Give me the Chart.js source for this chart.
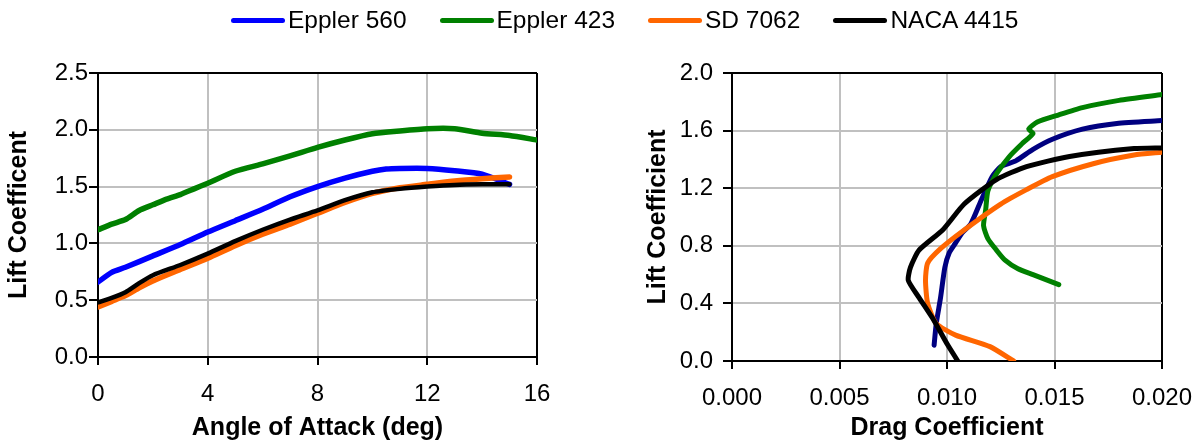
<!DOCTYPE html>
<html lang="en">
<head>
<meta charset="UTF-8">
<title>Airfoil lift and drag polars</title>
<script src="https://cdn.jsdelivr.net/npm/chart.js"></script>
<style>
  body { margin: 0; background: #fff; font-family: 'Liberation Sans', Arial, sans-serif; }
  #wrap { position: relative; width: 1199px; height: 443px; overflow: hidden; }
  #legend { position: absolute; left: 231px; top: 0; height: 40px; display: flex; align-items: center;
            font-size: 24.5px; white-space: nowrap; z-index: 2; color: #000; }
  .item { display: flex; align-items: center; margin-right: 33px; }
  .swatch { width: 54px; height: 5px; border-radius: 3px; margin-right: 3px; }
  #left { position: absolute; left: 0; top: 0; }
  #right { position: absolute; left: 590px; top: 0; }
</style>
</head>
<body>
<div id="wrap">
  <div id="legend"></div>
  <canvas id="left" width="590" height="443"></canvas>
  <canvas id="right" width="630" height="443"></canvas>
</div>

<script>
  // series names and colours (legend order)
  const names = ['Eppler 560', 'Eppler 423', 'SD 7062', 'NACA 4415'];
  const colors = ['#0000ff', '#008000', '#ff6600', '#000000'];
  const polarColors = ['#000080', '#008000', '#ff6600', '#000000'];

  // left chart: lift coefficient vs angle of attack
  const aoaE560 = [0, 0.5, 1, 2, 3, 4, 5, 6, 7, 8, 9, 10, 10.5, 11, 12, 13, 14, 15];
  const clE560  = [0.66, 0.745, 0.79, 0.89, 0.99, 1.10, 1.20, 1.30, 1.41, 1.50, 1.575, 1.635, 1.655, 1.66, 1.66, 1.64, 1.61, 1.52];

  const aoaE423 = [0, 0.5, 1, 1.5, 2, 2.5, 3, 3.5, 4, 5, 6, 7, 8, 9, 10, 11, 12, 13, 14, 15, 16];
  const clE423  = [1.12, 1.17, 1.21, 1.29, 1.34, 1.39, 1.43, 1.48, 1.53, 1.635, 1.70, 1.77, 1.845, 1.91, 1.965, 1.99, 2.01, 2.01, 1.97, 1.95, 1.91];

  const aoaSD = [0, 0.5, 1, 1.5, 2, 3, 4, 5, 6, 7, 8, 9, 10, 11, 12, 13, 14, 15];
  const clSD  = [0.44, 0.49, 0.54, 0.61, 0.67, 0.77, 0.87, 0.98, 1.08, 1.17, 1.265, 1.36, 1.44, 1.49, 1.52, 1.55, 1.57, 1.585];

  const aoaNACA = [0, 0.5, 1, 1.5, 2, 3, 4, 5, 6, 7, 8, 9, 10, 11, 12, 13, 14, 15];
  const clNACA  = [0.48, 0.52, 0.57, 0.65, 0.72, 0.81, 0.91, 1.02, 1.12, 1.21, 1.29, 1.38, 1.45, 1.48, 1.50, 1.515, 1.52, 1.52];

  // right chart: drag polars (cd, cl)
  const cdE560 = [0.0094, 0.0095, 0.0097, 0.0099, 0.0101, 0.0104, 0.0107, 0.0111, 0.0116, 0.0121, 0.0125, 0.0132, 0.0140, 0.0149, 0.0163, 0.0179, 0.0200];
  const cpE560 = [0.11, 0.26, 0.44, 0.65, 0.75, 0.82, 0.89, 0.95, 1.12, 1.28, 1.35, 1.39, 1.47, 1.54, 1.61, 1.65, 1.67];

  const cdE423 = [0.0152, 0.0140, 0.0133, 0.0127, 0.0123, 0.0119, 0.0117, 0.0118, 0.0119, 0.0123, 0.0129, 0.0135, 0.0140, 0.0138, 0.0142, 0.0152, 0.0163, 0.0180, 0.0200];
  const cpE423 = [0.53, 0.60, 0.64, 0.70, 0.77, 0.85, 0.94, 1.05, 1.18, 1.30, 1.42, 1.51, 1.58, 1.61, 1.66, 1.71, 1.76, 1.81, 1.85];

  const cdSD = [0.0131, 0.0120, 0.0104, 0.0095, 0.0091, 0.0090, 0.0091, 0.0097, 0.0108, 0.0125, 0.0137, 0.0149, 0.0168, 0.0187, 0.0200];
  const cpSD = [0.0, 0.10, 0.18, 0.26, 0.40, 0.56, 0.68, 0.78, 0.91, 1.09, 1.19, 1.28, 1.37, 1.43, 1.45];

  const cdNACA = [0.0105, 0.0100, 0.0094, 0.0087, 0.0082, 0.0083, 0.0087, 0.0098, 0.0108, 0.0123, 0.0137, 0.0157, 0.0187, 0.0200];
  const cpNACA = [0.0, 0.12, 0.28, 0.44, 0.56, 0.65, 0.77, 0.91, 1.09, 1.26, 1.35, 1.42, 1.475, 1.48];

  // html legend
  const legend = document.getElementById('legend');
  names.forEach((n, i) => {
    const item = document.createElement('div');
    item.className = 'item';
    item.innerHTML = '<span class="swatch" style="background:' + colors[i] + '"></span><span>' + n + '</span>';
    legend.appendChild(item);
  });

  Chart.defaults.font.family = "'Liberation Sans', Arial, sans-serif";
  Chart.defaults.color = '#000';

  function pts(xs, ys) { return xs.map((x, i) => ({ x: x, y: ys[i] })); }

  function series(i, xs, ys, col, width) {
    return {
      label: names[i], data: pts(xs, ys), borderColor: col, backgroundColor: col,
      borderWidth: width, pointRadius: 0, tension: 0.2, fill: false, showLine: true,
      borderCapStyle: 'round', borderJoinStyle: 'round', order: 3 - i
    };
  }

  function gridOpts(max, tl) {
    return {
      color: c => (c.tick && Math.abs(c.tick.value - max) < 1e-9 ? '#000' : '#c0c0c0'),
      lineWidth: 2, tickColor: '#000', tickWidth: 2, tickLength: tl
    };
  }

  const tickFont = { size: 24 };
  const titleFont = { size: 25, weight: 'bold' };

  new Chart(document.getElementById('left'), {
    type: 'line',
    data: {
      datasets: [
        series(0, aoaE560, clE560, colors[0], 5.5),
        series(1, aoaE423, clE423, colors[1], 5.5),
        series(2, aoaSD, clSD, colors[2], 5.5),
        series(3, aoaNACA, clNACA, colors[3], 4.5)
      ]
    },
    options: {
      responsive: false, animation: false,
      layout: { padding: { top: 73, right: 53, left: 0, bottom: 0 } },
      plugins: { legend: { display: false }, tooltip: { enabled: false } },
      scales: {
        x: {
          type: 'linear', min: 0, max: 16,
          ticks: { stepSize: 4, padding: 15, font: tickFont },
          grid: gridOpts(16, 8),
          border: { color: '#000', width: 2 },
          title: { display: true, text: 'Angle of Attack (deg)', font: titleFont, padding: 0 },
          afterFit: s => { s.height = 86; }
        },
        y: {
          min: 0, max: 2.5,
          ticks: { stepSize: 0.5, padding: 1, font: tickFont, callback: v => v.toFixed(1) },
          grid: gridOpts(2.5, 9),
          border: { color: '#000', width: 2 },
          title: { display: true, text: 'Lift Coefficent', font: titleFont, padding: { top: 4, bottom: 0 } },
          afterFit: s => { s.width = 98; }
        }
      }
    }
  });

  new Chart(document.getElementById('right'), {
    type: 'scatter',
    data: {
      datasets: [
        series(0, cdE560, cpE560, polarColors[0], 5),
        series(1, cdE423, cpE423, polarColors[1], 5),
        series(2, cdSD, cpSD, polarColors[2], 5),
        series(3, cdNACA, cpNACA, polarColors[3], 5)
      ]
    },
    options: {
      responsive: false, animation: false,
      layout: { padding: { top: 73, right: 58, left: 0, bottom: 0 } },
      plugins: { legend: { display: false }, tooltip: { enabled: false } },
      scales: {
        x: {
          type: 'linear', min: 0, max: 0.02,
          ticks: { stepSize: 0.005, padding: 15, font: tickFont, callback: v => v.toFixed(3) },
          grid: gridOpts(0.02, 8),
          border: { color: '#000', width: 2 },
          title: { display: true, text: 'Drag Coefficient', font: titleFont, padding: 0 },
          afterFit: s => { s.height = 82; }
        },
        y: {
          min: 0, max: 2.0,
          ticks: { stepSize: 0.4, padding: 10, font: tickFont, callback: v => v.toFixed(1) },
          grid: gridOpts(2.0, 9),
          border: { color: '#000', width: 2 },
          title: { display: true, text: 'Lift Coefficient', font: titleFont, padding: { top: 53, bottom: 0 } },
          afterFit: s => { s.width = 142; }
        }
      }
    }
  });
</script>
</body>
</html>
